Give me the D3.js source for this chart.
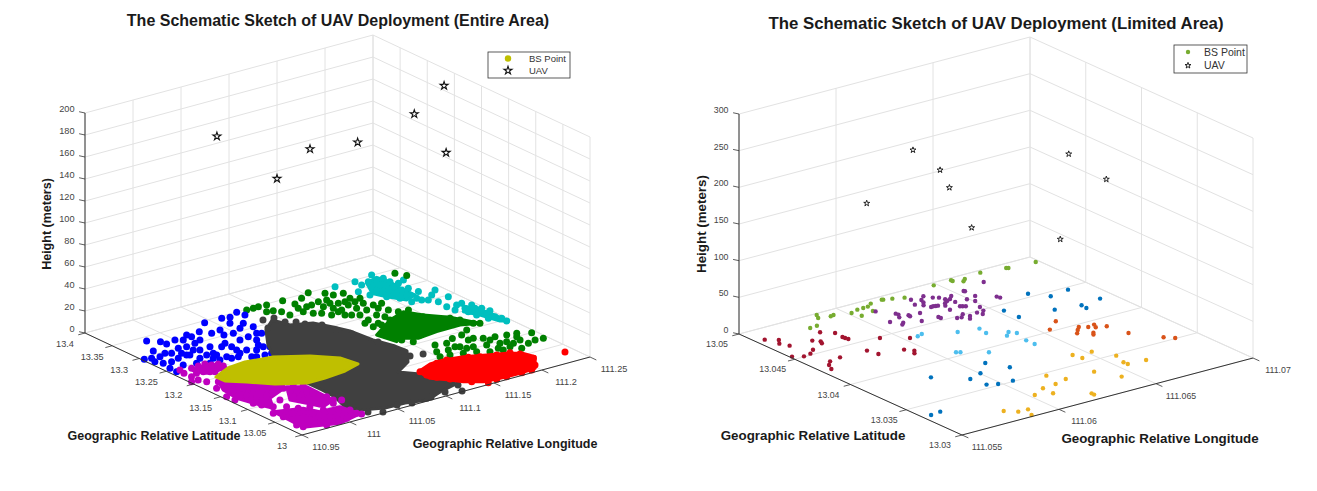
<!DOCTYPE html>
<html>
<head>
<meta charset="utf-8">
<style>
  body { margin: 0; background: #fff; }
  text { font-family: "Liberation Sans", Arial, sans-serif; }
</style>
<script src="https://cdn.jsdelivr.net/npm/d3@7"></script>
</head>
<body>
<svg id="chart" width="1317" height="491"></svg>
<script>
// ————— Entire area: tick labels —————
const entireLonTicks = [110.95, 111, 111.05, 111.1, 111.15, 111.2, 111.25];
const entireLatTicks = [13, 13.05, 13.1, 13.15, 13.2, 13.25, 13.3, 13.35, 13.4];
const entireZTicks = [0, 20, 40, 60, 80, 100, 120, 140, 160, 180, 200];

// [lon, lat, height]
const entireUav = [[111.0508,13.3352,170],[111.0928,13.2988,130],[111.1254,13.2956,150],[111.1663,13.2802,150],[111.2126,13.2577,170],[111.2412,13.2534,190],[111.2411,13.2495,130]];

// solid parts of the clusters, too packed to pick out single points
const greyCore = [[111.0738,13.2855],[111.0919,13.3063],[111.0968,13.2818],[111.1148,13.2713],[111.1223,13.2478],[111.1279,13.2264],[111.1305,13.1885],[111.1366,13.1587],[111.1375,13.1382],[111.1227,13.1102],[111.1021,13.092],[111.1138,13.0723],[111.1213,13.0488],[111.1235,13.0231],[111.1017,13.014],[111.0825,13.0022],[111.0631,13.0102],[111.0429,13.0113],[111.0235,13.0231],[111.0178,13.0407],[111.0252,13.0723],[111.0265,13.0985],[111.0264,13.126],[111.0735,13.1486],[111.0702,13.1795],[111.0433,13.2185],[111.054,13.2468]];
const yellowCore = [[110.9747,13.2023],[110.9953,13.2166],[111.0149,13.22],[111.0405,13.2136],[111.0664,13.1912],[111.0834,13.166],[111.0868,13.1389],[111.0684,13.1302],[111.0453,13.1263],[111.0264,13.126],[111.0039,13.1451],[110.9881,13.169],[110.975,13.1863]];
const redCore = [[111.116,13.0792],[111.1344,13.0904],[111.1489,13.0914],[111.1668,13.0862],[111.1845,13.0746],[111.2001,13.0652],[111.2111,13.054],[111.2142,13.0378],[111.1978,13.0088],[111.1808,13.0066],[111.1605,13.0075],[111.1448,13.0105],[111.1316,13.024],[111.1251,13.0371],[111.1143,13.0547]];
const greenCoreA = [[111.1399,13.1985],[111.1698,13.2269],[111.1904,13.2386],[111.1989,13.2168],[111.2133,13.193],[111.2246,13.1579],[111.2091,13.1672],[111.1843,13.1663],[111.1628,13.1622],[111.1507,13.1746],[111.1438,13.1685]];
const cyanCoreA = [[111.206,13.3338],[111.221,13.342],[111.2237,13.3222],[111.2209,13.2925],[111.2216,13.2722],[111.209,13.2654],[111.2004,13.2871],[111.1953,13.3044]];
const cyanCoreB = [[111.2393,13.2083],[111.2454,13.1824],[111.2467,13.1446],[111.2411,13.1502],[111.2363,13.1786],[111.23,13.1982]];
const magentaCoreA = [[110.9697,13.1891],[111.0104,13.1475],[110.9998,13.1257],[110.9804,13.1129],[110.9685,13.0857],[110.9644,13.103],[110.9584,13.1353],[110.9613,13.165]];
const magentaCoreB = [[111.0078,13.1306],[111.021,13.1171],[111.0199,13.066],[111.0039,13.0561],[110.9975,13.0756],[110.9912,13.0952]];
const magentaCoreC = [[110.9638,13.0774],[110.9883,13.0655],[110.9947,13.046],[111.0149,13.0449],[111.0178,13.0132],[110.9915,13.0035],[110.9616,13.0182],[110.9619,13.031]];
const magentaCoreD = [[110.9686,13.2333],[110.9868,13.2409],[110.9964,13.2272],[110.994,13.2167],[110.9737,13.2177]];

// single base stations, [lon, lat]
const greyPoints = [[111.0859,13.3124],[111.0779,13.2891],[111.096,13.31],[111.0977,13.2926],[111.1049,13.2851],[111.1081,13.2742],[111.1179,13.2602],[111.1201,13.2383],[111.1251,13.2176],[111.131,13.1802],[111.1341,13.1378],[111.1325,13.1238],[111.1439,13.1199],[111.1157,13.0664],[111.1225,13.0397],[111.1234,13.0193],[111.1177,13.0017],[111.105,13.0106],[111.0887,13.0076],[111.0677,13.0055],[111.055,13.0106],[111.0358,13.0026],[111.0259,13.0127],[111.0207,13.022]];
const bluePoints = [[110.9795,13.3386],[110.9877,13.3276],[110.9698,13.3092],[110.9522,13.2946],[110.9584,13.2921],[110.9885,13.3177],[110.9996,13.322],[110.9786,13.291],[110.9663,13.2906],[110.9591,13.2719],[110.9565,13.2549],[110.9562,13.2421],[110.9699,13.2542],[110.9669,13.2703],[111.0143,13.3265],[111.0153,13.3191],[111.0274,13.3263],[111.0436,13.3451],[111.0333,13.3139],[111.0081,13.3002],[110.9979,13.2975],[110.9884,13.2746],[111.002,13.2802],[110.9995,13.2633],[110.9811,13.2494],[111.0134,13.2818],[111.0061,13.2566],[111.039,13.3014],[111.028,13.28],[111.0277,13.2672],[111.061,13.3444],[111.0679,13.3413],[111.0793,13.3492],[111.081,13.337],[111.059,13.3072],[111.0701,13.3024],[111.0528,13.2809],[111.0536,13.2669],[111.0426,13.2782],[111.0329,13.2488],[111.0395,13.242],[111.0486,13.2459],[111.0104,13.2457],[111.0181,13.2378],[111.0269,13.2288],[111.038,13.224],[111.053,13.2414],[111.0013,13.242],[110.99,13.2404],[111.0051,13.3164],[110.9901,13.299],[110.9862,13.2768],[111.0594,13.3264],[111.0663,13.2802],[111.0238,13.245],[111.0447,13.2236],[110.9559,13.2816],[110.9742,13.2955],[110.9852,13.2843],[110.9903,13.2595],[110.9992,13.2506],[110.9976,13.2847],[110.976,13.2741],[111.0211,13.2739],[111.0263,13.2555],[111.0302,13.2254],[111.0682,13.3174],[111.063,13.2835],[111.0477,13.2534],[111.0113,13.2382],[111.0435,13.3166],[111.0161,13.3051],[111.0476,13.2993],[111.0062,13.263]];
const magentaPoints = [[110.9607,13.244],[110.9587,13.233],[110.9708,13.2403],[110.9784,13.2416],[110.9856,13.2421],[110.9887,13.2351],[110.9945,13.2331],[110.995,13.2247],[110.967,13.2245],[110.9738,13.2241],[110.959,13.2196],[110.9783,13.2196],[110.9816,13.2162],[110.9587,13.2068],[110.952,13.2071],[110.962,13.1969],[110.9697,13.1891],[110.9775,13.1877],[110.9795,13.1726],[110.9884,13.17],[110.995,13.1632],[111.0038,13.1543],[111.0081,13.1434],[111.0159,13.1327],[111.0211,13.1236],[110.9592,13.1737],[110.9647,13.1681],[110.9679,13.1583],[110.9768,13.1557],[110.9834,13.149],[110.99,13.1423],[110.9919,13.1272],[111.0032,13.1288],[111.0073,13.1115],[111.0139,13.1047],[110.9541,13.1462],[110.9549,13.1323],[110.9697,13.1369],[110.9739,13.1259],[110.9829,13.1234],[110.9846,13.1019],[110.9981,13.1012],[111,13.0862],[111.016,13.096],[110.9623,13.1116],[110.9655,13.1019],[110.9708,13.0898],[110.9796,13.0808],[110.985,13.0689],[110.995,13.0651],[111.0111,13.075],[111.0202,13.0788],[110.9615,13.0733],[110.9634,13.0583],[110.9747,13.0598],[110.9766,13.0448],[110.9879,13.0463],[110.9993,13.0479],[111.0152,13.0577],[110.9605,13.0285],[110.9625,13.0199],[110.9763,13.032],[110.9807,13.0211],[110.9943,13.0268],[111.0092,13.0378],[110.9951,13.0129],[110.9804,13.0083],[111.0199,13.066],[111.0169,13.0299],[111.0166,13.0171],[111.0189,13.0121],[111.003,13.0114],[111.0254,13.0603]];
const greenPoints = [[111.0892,13.3483],[111.0959,13.348],[111.1016,13.3487],[111.1094,13.3473],[111.1,13.3307],[111.1058,13.3287],[111.1099,13.3206],[111.1261,13.3473],[111.1107,13.3067],[111.1295,13.3307],[111.1419,13.3403],[111.1256,13.3177],[111.1335,13.3161],[111.1542,13.3499],[111.1285,13.2951],[111.1483,13.3208],[111.1644,13.337],[111.1561,13.3193],[111.1341,13.2895],[111.1676,13.3273],[111.1488,13.2941],[111.1591,13.3031],[111.1474,13.2824],[111.1765,13.3247],[111.1739,13.3078],[111.1805,13.301],[111.1634,13.2923],[111.152,13.2843],[111.1642,13.2784],[111.1515,13.2651],[111.1685,13.2674],[111.1799,13.2754],[111.1877,13.2739],[111.1555,13.2415],[111.168,13.2483],[111.1494,13.2215],[111.1573,13.22],[111.1828,13.2528],[111.1871,13.242],[111.1961,13.2393],[111.1698,13.2269],[111.1765,13.2202],[111.1877,13.2153],[111.1966,13.2127],[111.2007,13.1954],[111.2119,13.1905],[111.2161,13.1797],[111.2202,13.1624],[111.2246,13.1579],[111.1533,13.1914],[111.1622,13.1825],[111.1686,13.1693],[111.1859,13.1833],[111.1935,13.1766],[111.2081,13.1748],[111.1548,13.1573],[111.149,13.2023],[111.1495,13.1692],[111.1645,13.1344],[111.1562,13.1166],[111.1514,13.1019],[111.1849,13.1386],[111.1961,13.1412],[111.2065,13.1503],[111.1753,13.1167],[111.1662,13.1129],[111.1786,13.1133],[111.1991,13.1251],[111.2057,13.1184],[111.2158,13.1146],[111.2259,13.1108],[111.2349,13.1083],[111.2457,13.0999],[111.2454,13.0779],[111.2285,13.0755],[111.2302,13.1],[111.1874,13.1043],[111.1986,13.0995],[111.2097,13.0946],[111.2117,13.0796],[111.2171,13.0676],[111.1714,13.0945],[111.1603,13.0993],[111.1826,13.0897],[111.1914,13.0807],[111.2025,13.0758],[111.2277,13.0895],[111.2376,13.0793],[111.2387,13.3396],[111.2433,13.326],[111.1659,13.3028],[111.1725,13.2961],[111.1756,13.2863],[111.157,13.2595],[111.1574,13.2265],[111.1471,13.2696],[111.1486,13.2354],[111.1712,13.2386],[111.1785,13.2638],[111.1536,13.3087],[111.1446,13.3049],[111.1391,13.317],[111.1242,13.306],[111.1383,13.2786],[111.1745,13.1306],[111.1935,13.1243],[111.2078,13.1097],[111.2165,13.0943],[111.1807,13.1047],[111.2016,13.0834],[111.2186,13.0856]];
const redPoints = [[111.1171,13.0781],[111.1273,13.0808],[111.1398,13.0876],[111.1511,13.0892],[111.1542,13.0794],[111.1691,13.0812],[111.1778,13.0749],[111.1911,13.0679],[111.2033,13.0647],[111.208,13.0547],[111.2107,13.0349],[111.2024,13.0171],[111.1932,13.007],[111.1829,13.007],[111.1673,13.0072],[111.1569,13.0073],[111.1467,13.0047],[111.1371,13.0183],[111.1375,13.0376],[111.1266,13.0396],[111.1201,13.0527],[111.1168,13.0653],[111.2405,13.0293]];
const cyanPoints = [[111.1804,13.3468],[111.2006,13.3458],[111.2003,13.333],[111.1888,13.3187],[111.221,13.3512],[111.2094,13.3368],[111.2173,13.3354],[111.224,13.335],[111.2237,13.3222],[111.227,13.3125],[111.2032,13.3105],[111.2109,13.3026],[111.2198,13.2936],[111.2265,13.2933],[111.1918,13.3026],[111.207,13.2741],[111.2183,13.2756],[111.2285,13.2783],[111.2189,13.2552],[111.2418,13.2712],[111.2326,13.261],[111.2233,13.2508],[111.2276,13.2399],[111.2412,13.2456],[111.2406,13.22],[111.2261,13.2218],[111.235,13.2193],[111.2449,13.2091],[111.2269,13.2079],[111.2333,13.1948],[111.2434,13.191],[111.2431,13.1783],[111.2439,13.1644],[111.2456,13.1457],[111.246,13.1557],[111.249,13.1827],[111.2468,13.1941],[111.2004,13.2871],[111.21,13.2579],[111.235,13.3174],[111.2124,13.3206],[111.2189,13.3075],[111.2161,13.2779],[111.218,13.2628],[111.2424,13.1986],[111.2358,13.2053],[111.2372,13.1647],[111.2341,13.1809]];

// ————— Limited area —————
const limitedLonTicks = [111.055, 111.06, 111.065, 111.07];
const limitedLatTicks = [13.03, 13.035, 13.04, 13.045, 13.05];
const limitedZTicks = [0, 50, 100, 150, 200, 250, 300];

const limitedUav = [[111.06018,13.04341,260],[111.06068,13.04185,240],[111.06077,13.04117,220],[111.05906,13.04561,180],[111.06125,13.04001,170],[111.06549,13.03868,250],[111.06648,13.03703,220],[111.06541,13.0393,130]];

const maroonBs = [[111.05543,13.04844],[111.05587,13.04794],[111.05562,13.04746],[111.05581,13.04687],[111.0551,13.04542],[111.05551,13.04506],[111.05591,13.04518],[111.05628,13.04559],[111.05691,13.04675],[111.05776,13.04753],[111.05713,13.04638],[111.05703,13.0461],[111.0582,13.04695],[111.05815,13.0462],[111.05817,13.046],[111.0582,13.04576],[111.0593,13.04484],[111.06028,13.04385],[111.05661,13.04374],[111.056,13.04357],[111.0557,13.04314],[111.05549,13.04257],[111.05797,13.04369],[111.0581,13.04289],[111.05925,13.04259],[111.05951,13.04212],[111.05932,13.04178]];
const limeBs = [[111.05889,13.0498],[111.05873,13.04939],[111.05775,13.0484],[111.05813,13.04846],[111.05926,13.04918],[111.05944,13.04925],[111.06017,13.0489],[111.0606,13.04913],[111.06031,13.04823],[111.06091,13.04914],[111.06116,13.04916],[111.06147,13.04944],[111.06101,13.04845],[111.06211,13.04957],[111.06216,13.04952],[111.06253,13.04935],[111.063,13.04907],[111.06483,13.04964],[111.06576,13.0497],[111.06576,13.04956],[111.06609,13.04916],[111.0663,13.04941],[111.06726,13.04969],[111.06844,13.04942],[111.06851,13.04934],[111.06983,13.04919]];
const purpleBs = [[111.06107,13.04831],[111.06078,13.04651],[111.06156,13.04736],[111.06158,13.04715],[111.06141,13.04678],[111.06116,13.04599],[111.06099,13.04577],[111.06186,13.04673],[111.06184,13.04656],[111.06306,13.0486],[111.06283,13.04785],[111.0624,13.04664],[111.06188,13.04558],[111.06338,13.04822],[111.06326,13.04783],[111.06371,13.04862],[111.06307,13.04749],[111.06319,13.04702],[111.06392,13.04814],[111.06331,13.04704],[111.06342,13.047],[111.06351,13.04696],[111.06412,13.04793],[111.06271,13.04553],[111.06272,13.04533],[111.0642,13.04752],[111.06418,13.04728],[111.06438,13.04739],[111.06464,13.04774],[111.06391,13.04702],[111.06375,13.04672],[111.06413,13.04725],[111.06434,13.04686],[111.06361,13.04606],[111.06325,13.04479],[111.06418,13.04615],[111.06427,13.04607],[111.06437,13.04596],[111.06344,13.04472],[111.0637,13.04507],[111.06381,13.04461],[111.06362,13.04428],[111.06491,13.0468],[111.0654,13.04795],[111.06542,13.04786],[111.06542,13.04695],[111.06506,13.04632],[111.06428,13.0448],[111.06478,13.04541],[111.06463,13.04484],[111.06437,13.04444],[111.0667,13.04841],[111.06607,13.04615],[111.06611,13.04591]];
const skyBs = [[111.06065,13.0438],[111.06095,13.04396],[111.06226,13.04302],[111.06075,13.04054],[111.06089,13.04039],[111.06321,13.04272],[111.06311,13.04195],[111.06182,13.03945],[111.06391,13.04133],[111.0636,13.04093],[111.06411,13.04093],[111.06389,13.03971],[111.0639,13.03897]];
const blueBs = [[111.05813,13.03823],[111.05929,13.03672],[111.06003,13.0371],[111.06093,13.03823],[111.05942,13.03549],[111.05543,13.03352],[111.05597,13.03364],[111.06142,13.03688],[111.05984,13.03518],[111.06056,13.03511],[111.0673,13.04548],[111.06785,13.0444],[111.06889,13.04466],[111.0653,13.04416],[111.06533,13.04287],[111.06702,13.0426],[111.06821,13.04226],[111.06817,13.04176],[111.06929,13.04248]];
const orangeBs = [[111.06622,13.04111],[111.06543,13.04027],[111.06656,13.03964],[111.06631,13.0393],[111.06605,13.0389],[111.06687,13.03933],[111.06723,13.03943],[111.06709,13.03904],[111.06663,13.03845],[111.06649,13.0382],[111.06752,13.0388],[111.06775,13.03725],[111.06858,13.03555],[111.06891,13.03508]];
const amberBs = [[111.06435,13.03635],[111.06445,13.03565],[111.06521,13.03613],[111.06572,13.03482],[111.06548,13.03375],[111.0655,13.0334],[111.06638,13.03329],[111.06385,13.03355],[111.06439,13.03202],[111.06201,13.03463],[111.0624,13.03357],[111.06171,13.03328],[111.06099,13.03316],[111.06024,13.03259],[111.06096,13.0322],[111.06221,13.03092],[111.0622,13.03068],[111.05808,13.03162],[111.05851,13.03106],[111.05899,13.03102],[111.0587,13.0302]];

// ————— Panels —————
const svg = d3.select('#chart');
const GRID = '#e2e2e2';
const AXIS = '#333';
const LABEL = '#444';

function drawPanel(p) {
  const g = svg.append('g');
  const lonT = d3.scaleLinear().domain(d3.extent(p.lonTicks)).range([0, 1]);
  const latT = d3.scaleLinear().domain(d3.extent(p.latTicks)).range([0, 1]);
  const zY = d3.scaleLinear().domain(d3.extent(p.zTicks)).range([0, p.zHeight]);
  const u = [p.right[0] - p.front[0], p.right[1] - p.front[1]];
  const v = [p.left[0] - p.front[0], p.left[1] - p.front[1]];

  const project = (lon, lat, z = 0) => [
    p.front[0] + lonT(lon) * u[0] + latT(lat) * v[0],
    p.front[1] + lonT(lon) * u[1] + latT(lat) * v[1] - zY(z)
  ];
  const seg = (a, b, color, w) => g.append('line')
    .attr('x1', a[0]).attr('y1', a[1]).attr('x2', b[0]).attr('y2', b[1])
    .attr('stroke', color).attr('stroke-width', w);

  const lonMin = p.lonTicks[0], lonMax = p.lonTicks[p.lonTicks.length - 1];
  const latMin = p.latTicks[0], latMax = p.latTicks[p.latTicks.length - 1];
  const zMax = p.zTicks[p.zTicks.length - 1];

  // grid: floor and the two back walls
  p.lonTicks.forEach(t => {
    seg(project(t, latMin), project(t, latMax), GRID, 1);
    seg(project(t, latMax), project(t, latMax, zMax), GRID, 1);
  });
  p.latTicks.forEach(t => {
    seg(project(lonMin, t), project(lonMax, t), GRID, 1);
    seg(project(lonMax, t), project(lonMax, t, zMax), GRID, 1);
  });
  p.zTicks.forEach(t => {
    seg(project(lonMin, latMax, t), project(lonMax, latMax, t), GRID, 1);
    seg(project(lonMax, latMax, t), project(lonMax, latMin, t), GRID, 1);
  });

  // clusters
  const line = d3.line().x(d => project(d[0], d[1])[0]).y(d => project(d[0], d[1])[1]).curve(d3.curveLinearClosed);
  p.layers.forEach(layer => {
    (layer.core || []).forEach(c => {
      g.append('path').datum(c).attr('d', line)
        .attr('fill', layer.color).attr('stroke', layer.color)
        .attr('stroke-width', 3).attr('stroke-linejoin', 'round');
    });
    g.selectAll(null).data(layer.points).join('circle')
      .attr('cx', d => project(d[0], d[1])[0])
      .attr('cy', d => project(d[0], d[1])[1])
      .attr('r', p.dotR)
      .attr('fill', layer.color);
  });

  // UAVs
  const star = d3.symbol().type(d3.symbolStar).size(p.starSize);
  g.selectAll(null).data(p.uav).join('path')
    .attr('d', star)
    .attr('transform', d => `translate(${project(d[0], d[1], d[2])})`)
    .attr('fill', 'none').attr('stroke', '#111').attr('stroke-width', p.starStroke);

  // axes
  seg(project(lonMin, latMax), project(lonMin, latMax, zMax), AXIS, 1);
  seg(project(lonMin, latMax), project(lonMin, latMin), AXIS, 1);
  seg(project(lonMin, latMin), project(lonMax, latMin), AXIS, 1);

  const tickLabel = (x, y, txt, anchor) => g.append('text')
    .attr('x', x).attr('y', y).attr('text-anchor', anchor)
    .attr('font-size', p.tickFont).attr('fill', LABEL).text(txt);

  const uLen = Math.hypot(u[0], u[1]), vLen = Math.hypot(v[0], v[1]);
  p.latTicks.forEach(t => {
    const a = project(lonMin, t);
    seg(a, [a[0] - 7 * u[0] / uLen, a[1] - 7 * u[1] / uLen], AXIS, 0.8);
    tickLabel(a[0] + p.latLabel[0], a[1] + p.latLabel[1], t, 'middle');
  });
  p.lonTicks.forEach(t => {
    const a = project(t, latMin);
    seg(a, [a[0] - 7 * v[0] / vLen, a[1] - 7 * v[1] / vLen], AXIS, 0.8);
    tickLabel(a[0] + p.lonLabel[0], a[1] + p.lonLabel[1], t, 'middle');
  });
  p.zTicks.forEach(t => {
    const a = project(lonMin, latMax, t);
    seg(a, [a[0] + 6.5 * v[0] / vLen, a[1] + 3 * v[1] / vLen], AXIS, 0.8);
    tickLabel(a[0] - 10.5, a[1] - 1, t, 'end');
  });

  // titles
  const bold = (x, y, size, txt, rotate) => g.append('text')
    .attr('transform', `translate(${x},${y})` + (rotate ? ' rotate(-90)' : ''))
    .attr('text-anchor', 'middle').attr('font-weight', 'bold')
    .attr('font-size', size).attr('fill', '#1a1a1a').text(txt);
  bold(p.title[0], p.title[1], p.titleFont, p.titleText);
  bold(p.latTitle[0], p.latTitle[1], p.labelFont, 'Geographic Relative Latitude');
  bold(p.lonTitle[0], p.lonTitle[1], p.labelFont, 'Geographic Relative Longitude');
  bold(p.zTitle[0], p.zTitle[1], p.labelFont, 'Height (meters)', true);

  // legend
  const lg = p.legend;
  g.append('rect').attr('x', lg.x).attr('y', lg.y).attr('width', lg.w).attr('height', lg.h)
    .attr('fill', '#fff').attr('stroke', '#333').attr('stroke-width', 0.8);
  g.append('circle').attr('cx', lg.mx).attr('cy', lg.y1).attr('r', lg.r).attr('fill', lg.color);
  g.append('path').attr('d', star).attr('transform', `translate(${lg.mx},${lg.y2})`)
    .attr('fill', 'none').attr('stroke', '#111').attr('stroke-width', p.starStroke);
  ['BS Point', 'UAV'].forEach((txt, i) => {
    g.append('text').attr('x', lg.tx).attr('y', (i ? lg.y2 : lg.y1) + lg.font * 0.36)
      .attr('font-size', lg.font).attr('fill', '#333').text(txt);
  });
}

drawPanel({
  left: [85, 333], right: [590, 357], front: [302, 435], zHeight: 220,
  lonTicks: entireLonTicks, latTicks: entireLatTicks, zTicks: entireZTicks,
  uav: entireUav, dotR: 3.5, starSize: 20, starStroke: 1.1, tickFont: 9.2,
  layers: [
    { color: '#00BFBF', core: [cyanCoreA, cyanCoreB], points: cyanPoints },
    { color: '#008000', core: [greenCoreA], points: greenPoints },
    { color: '#0000FF', points: bluePoints },
    { color: '#404040', core: [greyCore], points: greyPoints },
    { color: '#FF0000', core: [redCore], points: redPoints },
    { color: '#BF00BF', core: [magentaCoreA, magentaCoreB, magentaCoreC, magentaCoreD], points: magentaPoints },
    { color: '#BFBF00', core: [yellowCore], points: [] }
  ],
  latLabel: [-20, 14], lonLabel: [24, 15],
  titleText: 'The Schematic Sketch of UAV Deployment (Entire Area)',
  title: [338, 26], titleFont: 16, labelFont: 12.5,
  latTitle: [154, 440], lonTitle: [505, 448], zTitle: [51, 224],
  legend: { x: 488, y: 52, w: 82, h: 26, mx: 508, y1: 58.5, y2: 70.5, r: 3.2, tx: 529, font: 9.5, color: '#BFBF00' }
});

drawPanel({
  left: [739, 334], right: [1253, 358], front: [962, 435], zHeight: 220,
  lonTicks: limitedLonTicks, latTicks: limitedLatTicks, zTicks: limitedZTicks,
  uav: limitedUav, dotR: 2.2, starSize: 11, starStroke: 0.9, tickFont: 8.8,
  layers: [
    { color: '#A2142F', points: maroonBs },
    { color: '#77AC30', points: limeBs },
    { color: '#7E2F8E', points: purpleBs },
    { color: '#4DBEEE', points: skyBs },
    { color: '#0072BD', points: blueBs },
    { color: '#D95319', points: orangeBs },
    { color: '#EDB120', points: amberBs }
  ],
  latLabel: [-22, 13], lonLabel: [25, 15],
  titleText: 'The Schematic Sketch of UAV Deployment (Limited Area)',
  title: [996, 29], titleFont: 16.8, labelFont: 13.35,
  latTitle: [813, 440], lonTitle: [1160, 443], zTitle: [706, 224],
  legend: { x: 1174, y: 45, w: 73, h: 28, mx: 1188, y1: 52, y2: 65.5, r: 2.2, tx: 1204, font: 10.5, color: '#77AC30' }
});
</script>
</body>
</html>
